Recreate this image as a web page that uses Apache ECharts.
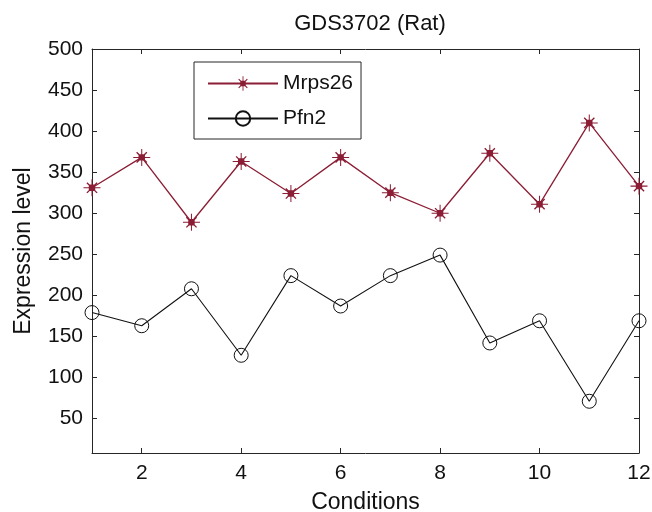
<!DOCTYPE html>
<html>
<head>
<meta charset="utf-8">
<title>GDS3702 (Rat)</title>
<script src="https://cdn.jsdelivr.net/npm/echarts@6/dist/echarts.min.js"></script>
<style>
  html, body { margin: 0; padding: 0; background: #fff; }
  #main { width: 652px; height: 512px; }
</style>
</head>
<body>
<div id="main"></div>
<script>
// data
var conditions = [1, 2, 3, 4, 5, 6, 7, 8, 9, 10, 11, 12];
var mrps26 = [331, 368, 289, 363, 324, 368, 325, 300, 373, 311, 410, 333];
var pfn2 = [179, 163, 208, 127, 224, 187, 224, 249, 142, 169, 71, 169];
var xTicks = [2, 4, 6, 8, 10, 12];
var yTicks = [50, 100, 150, 200, 250, 300, 350, 400, 450, 500];

// asterisk with a filled square in the middle (MATLAB '*' look)
var starPath = 'path://' +
  'M47 0L53 0L53 100L47 100Z' +
  'M0 47L100 47L100 53L0 53Z' +
  'M22.8 17.2L82.8 77.2L77.2 82.8L17.2 22.8Z' +
  'M82.8 22.8L22.8 82.8L17.2 77.2L77.2 17.2Z' +
  'M31 31L69 31L69 69L31 69Z';

function pairs(xs, ys) {
  return xs.map(function (x, i) { return [x, ys[i]]; });
}

var textColor = '#111';
var axisColor = '#262626';
var red = '#8B1D34';

var chart = echarts.init(document.getElementById('main'));
chart.setOption({
  animation: false,
  backgroundColor: '#fff',
  textStyle: { fontFamily: 'Liberation Sans, Arial, sans-serif', color: textColor },
  title: {
    text: 'GDS3702 (Rat)',
    left: 365,
    textAlign: 'center',
    top: 8,
    textStyle: { fontSize: 22, fontWeight: 'normal', color: textColor, fontFamily: 'Liberation Sans' }
  },
  grid: { left: 92, right: 13, top: 49, bottom: 59, containLabel: false, outerBoundsMode: 'none' },
  legend: {
    orient: 'vertical',
    left: 194,
    top: 62,
    padding: [11, 8, 10, 13],
    itemWidth: 70,
    itemHeight: 18,
    itemGap: 14,
    borderColor: axisColor,
    borderWidth: 1,
    backgroundColor: '#fff',
    textStyle: { fontSize: 21, color: textColor, fontFamily: 'Liberation Sans' },
    data: ['Mrps26', 'Pfn2']
  },
  xAxis: [{
    type: 'value',
    min: 1,
    max: 12,
    name: 'Conditions',
    nameLocation: 'middle',
    nameGap: 38,
    nameTextStyle: { fontSize: 23, color: textColor },
    axisLine: { lineStyle: { color: axisColor, width: 1 } },
    axisTick: { inside: true, length: 5, customValues: xTicks, lineStyle: { color: axisColor } },
    axisLabel: { customValues: xTicks, fontSize: 21, color: textColor, margin: 10 },
    splitLine: { show: false }
  }, {
    type: 'value',
    position: 'top',
    min: 1,
    max: 12,
    axisLine: { show: true, lineStyle: { color: axisColor, width: 1 } },
    axisTick: { inside: true, length: 5, customValues: xTicks, lineStyle: { color: axisColor } },
    axisLabel: { show: false },
    splitLine: { show: false }
  }],
  yAxis: [{
    type: 'value',
    min: 8,
    max: 500,
    name: 'Expression level',
    nameLocation: 'middle',
    nameGap: 57,
    nameTextStyle: { fontSize: 23, color: textColor },
    axisLine: { show: true, lineStyle: { color: axisColor, width: 1 } },
    axisTick: { show: true, inside: true, length: 5, customValues: yTicks, lineStyle: { color: axisColor } },
    axisLabel: { customValues: yTicks, fontSize: 21, color: textColor, margin: 9 },
    splitLine: { show: false }
  }, {
    type: 'value',
    position: 'right',
    min: 8,
    max: 500,
    axisLine: { show: true, lineStyle: { color: axisColor, width: 1 } },
    axisTick: { show: true, inside: true, length: 5, customValues: yTicks, lineStyle: { color: axisColor } },
    axisLabel: { show: false },
    splitLine: { show: false }
  }],
  series: [{
    name: 'Mrps26',
    type: 'line',
    data: pairs(conditions, mrps26),
    symbol: starPath,
    symbolSize: 17,
    itemStyle: { color: red },
    lineStyle: { color: red, width: 1.3 },
    emphasis: { disabled: true }
  }, {
    name: 'Pfn2',
    type: 'line',
    data: pairs(conditions, pfn2),
    symbol: 'circle',
    symbolSize: 14,
    itemStyle: { color: 'rgba(0,0,0,0)', borderColor: '#111', borderWidth: 1 },
    lineStyle: { color: '#111', width: 1.1 },
    emphasis: { disabled: true }
  }]
});
</script>
</body>
</html>
